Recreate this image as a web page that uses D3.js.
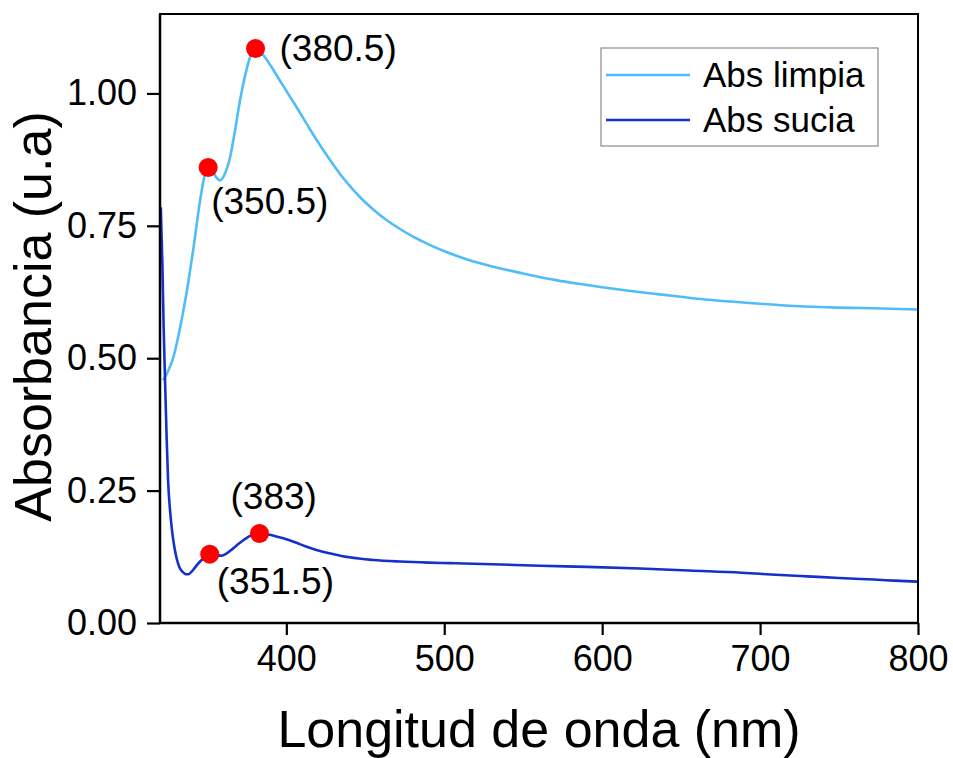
<!DOCTYPE html>
<html>
<head>
<meta charset="utf-8">
<script src="https://cdn.jsdelivr.net/npm/d3@7"></script>
<style>
  html, body { margin: 0; padding: 0; background: #fff; }
  svg { display: block; font-family: "Liberation Sans", Arial, sans-serif; }
  .tick-label { font-size: 36px; fill: #000; }
  .axis-title { font-size: 52px; fill: #000; }
  .peak-label { font-size: 37px; fill: #000; }
  .legend-label { font-size: 35px; fill: #000; }
</style>
</head>
<body>
<svg id="chart" width="953" height="758"></svg>
<script>
// Wavelength (nm) and absorbance
const limpiaWl = [322, 325, 328.5, 331.5, 334.8, 338, 341, 345.4, 348.5, 350.5, 353, 355.5, 358, 361,
  364.4, 367.5, 370.7, 374, 377, 380.5, 383.5, 386.6, 391, 396, 401, 406.7, 413, 419.4, 427, 434,
  440, 447, 455, 463, 472, 480.5, 490, 501.8, 515, 533.5, 550, 571.5, 586.3, 600, 618, 635, 649.7,
  665, 681.4, 700, 713, 744.9, 776.6, 800];
const limpiaAbs = [0.458, 0.475, 0.502, 0.54, 0.59, 0.645, 0.704, 0.798, 0.848, 0.86, 0.855, 0.842, 0.836, 0.848,
  0.88, 0.93, 0.987, 1.035, 1.068, 1.085, 1.079, 1.068, 1.048, 1.024, 1.0, 0.973, 0.942, 0.911, 0.877, 0.848,
  0.826, 0.803, 0.781, 0.762, 0.744, 0.729, 0.715, 0.7, 0.686, 0.671, 0.66, 0.647, 0.64, 0.634, 0.627, 0.621, 0.616,
  0.611, 0.607, 0.603, 0.6, 0.596, 0.594, 0.592];

const suciaWl = [320.5, 321.5, 322.3, 323.2, 324.2, 325.1, 326.3, 327.6, 329, 330.8, 332.5, 334.5, 336.5, 338,
  340, 343, 346, 349, 351.5, 354, 356.5, 359, 362, 366, 370, 374, 378, 383, 388.5, 393, 398, 405, 412,
  419, 430, 440, 455, 472, 490, 504, 530, 561, 590, 624, 655, 688, 710, 730, 750, 772, 785, 800];
const suciaAbs = [0.785, 0.68, 0.56, 0.458, 0.35, 0.27, 0.215, 0.175, 0.145, 0.119, 0.104, 0.096, 0.092, 0.092,
  0.097, 0.108, 0.118, 0.125, 0.13, 0.131, 0.128, 0.127, 0.131, 0.14, 0.15, 0.159, 0.166, 0.169, 0.167, 0.164, 0.16, 0.153, 0.145,
  0.138, 0.13, 0.124, 0.119, 0.116, 0.114, 0.113, 0.111, 0.108, 0.106, 0.103, 0.099, 0.095, 0.091, 0.088, 0.085, 0.082, 0.080, 0.078];

const seriesNames = ["Abs limpia", "Abs sucia"];
const seriesColors = ["#50bcf8", "#1530cc"];

// Marked peaks: wavelength, absorbance, label
const peakWl = [350.5, 380.5, 351.5, 383];
const peakAbs = [0.86, 1.085, 0.13, 0.169];
const peakText = ["(350.5)", "(380.5)", "(351.5)", "(383)"];
const peakOffset = [[3, 46], [24, 13], [7, 40], [-29, -25]];

const xTicks = [400, 500, 600, 700, 800];
const yTicks = [0, 0.25, 0.5, 0.75, 1.0];

const svg = d3.select("#chart");
const margin = { top: 14, right: 35, bottom: 135, left: 160 };
const width = 953 - margin.left - margin.right;
const height = 758 - margin.top - margin.bottom;

const x = d3.scaleLinear().domain([320, 800]).range([0, width]);
const y = d3.scaleLinear().domain([0, 1.15]).range([height, 0]);

const g = svg.append("g").attr("transform", `translate(${margin.left},${margin.top})`);

g.append("clipPath").attr("id", "plot-clip")
  .append("rect").attr("width", width).attr("height", height);

const line = d3.line()
  .x((d) => x(d[0]))
  .y((d) => y(d[1]))
  .curve(d3.curveMonotoneX);

const series = [
  d3.zip(limpiaWl, limpiaAbs),
  d3.zip(suciaWl, suciaAbs)
];

const plot = g.append("g").attr("clip-path", "url(#plot-clip)");
series.forEach((pts, i) => {
  plot.append("path")
    .datum(pts)
    .attr("fill", "none")
    .attr("stroke", seriesColors[i])
    .attr("stroke-width", 2.6)
    .attr("d", line);
});

// red markers + labels
peakWl.forEach((wl, i) => {
  g.append("circle")
    .attr("cx", x(wl))
    .attr("cy", y(peakAbs[i]))
    .attr("r", 9.5)
    .attr("fill", "#ff0000");
  g.append("text")
    .attr("class", "peak-label")
    .attr("x", x(wl) + peakOffset[i][0])
    .attr("y", y(peakAbs[i]) + peakOffset[i][1])
    .text(peakText[i]);
});

// frame
g.append("rect")
  .attr("width", width)
  .attr("height", height)
  .attr("fill", "none")
  .attr("stroke", "#000")
  .attr("stroke-width", 2);

// axes
const xAxis = g.append("g")
  .attr("transform", `translate(0,${height})`)
  .call(d3.axisBottom(x).tickValues(xTicks).tickSize(12).tickPadding(10).tickFormat(d3.format("d")));
xAxis.selectAll("text").attr("class", "tick-label").attr("font-size", null).attr("font-family", null);

const yAxis = g.append("g")
  .call(d3.axisLeft(y).tickValues(yTicks).tickSize(13).tickPadding(10).tickFormat(d3.format(".2f")));
yAxis.selectAll("text").attr("class", "tick-label").attr("font-size", null).attr("font-family", null);

[xAxis, yAxis].forEach((ax) => {
  ax.select(".domain").attr("stroke", "#000").attr("stroke-width", 2.5);
  ax.selectAll(".tick line").attr("stroke", "#000").attr("stroke-width", 2.2);
});
xAxis.select(".domain").attr("d", `M0,0H${width}`);
yAxis.select(".domain").attr("d", `M0,0V${height}`);

// axis titles
svg.append("text")
  .attr("class", "axis-title")
  .attr("x", margin.left + width / 2)
  .attr("y", 747)
  .attr("text-anchor", "middle")
  .text("Longitud de onda (nm)");

svg.append("text")
  .attr("class", "axis-title")
  .attr("transform", `translate(51,${margin.top + height / 2 - 2}) rotate(-90)`)
  .attr("text-anchor", "middle")
  .text("Absorbancia (u.a)");

// legend
const legend = svg.append("g").attr("transform", "translate(601,48)");
legend.append("rect")
  .attr("width", 277)
  .attr("height", 98)
  .attr("fill", "#fff")
  .attr("stroke", "#8a8a8a")
  .attr("stroke-width", 1.2);
seriesNames.forEach((name, i) => {
  const ly = 27 + i * 45;
  legend.append("line")
    .attr("x1", 5).attr("x2", 89)
    .attr("y1", ly).attr("y2", ly)
    .attr("stroke", seriesColors[i])
    .attr("stroke-width", 2.6);
  legend.append("text")
    .attr("class", "legend-label")
    .attr("x", 102)
    .attr("y", ly + 12)
    .text(name);
});
</script>
</body>
</html>
